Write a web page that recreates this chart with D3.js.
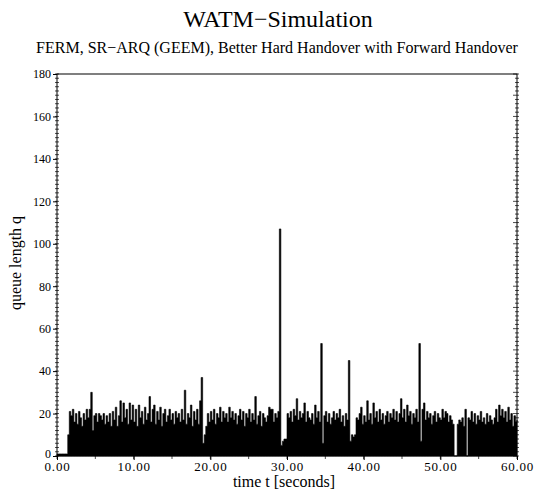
<!DOCTYPE html>
<html>
<head>
<meta charset="utf-8">
<script src="https://cdn.jsdelivr.net/npm/d3@7"></script>
<style>
  body { margin: 0; background: #fff; }
  text { font-family: "Liberation Serif", "Times New Roman", serif; fill: #000; }
</style>
</head>
<body>
<div id="chart"></div>
<script>
// queue length sampled every 0.2 s, from t = 0 to t = 60
var sampleStep = 0.2
var queueLength = [
  1, 1, 1, 1, 1, 1, 1, 10, 21, 19,
  22, 16, 20, 15, 21, 18, 14, 20, 17, 22,
  18, 22, 30, 12, 19, 20, 16, 20, 19, 17,
  20, 15, 19, 16, 20, 14, 21, 17, 23, 14,
  19, 26, 16, 25, 18, 22, 15, 25, 17, 24,
  16, 22, 14, 24, 18, 21, 15, 23, 17, 20,
  28, 16, 22, 24, 15, 21, 17, 23, 14, 20,
  22, 16, 19, 22, 17, 20, 15, 21, 18, 20,
  16, 22, 17, 31, 15, 20, 18, 24, 14, 21,
  17, 22, 15, 26, 37, 6, 10, 14, 20, 16,
  21, 17, 22, 15, 20, 18, 23, 16, 21, 18,
  20, 16, 23, 18, 21, 17, 20, 15, 19, 22,
  17, 21, 14, 20, 18, 22, 16, 20, 17, 28,
  15, 19, 21, 14, 20, 18, 16, 19, 23, 22,
  22, 16, 20, 18, 21, 107, 5, 7, 8, 8,
  20, 18, 21, 16, 22, 19, 27, 17, 21, 18,
  20, 25, 16, 21, 18, 17, 20, 15, 24, 18,
  21, 16, 53, 6, 19, 21, 16, 20, 15, 18,
  21, 17, 20, 18, 22, 16, 19, 14, 20, 17,
  45, 7, 10, 9, 10, 18, 17, 20, 23, 15,
  19, 16, 26, 17, 20, 15, 25, 18, 21, 16,
  22, 17, 20, 15, 19, 21, 16, 20, 18, 22,
  17, 21, 16, 20, 27, 18, 22, 16, 24, 19,
  21, 15, 20, 18, 22, 16, 53, 7, 22, 25,
  17, 21, 18, 20, 15, 19, 21, 16, 20, 18,
  17, 22, 18, 21, 20, 16, 19, 17, 15, 0,
  0, 15, 17, 16, 18, 14, 22, 0, 18, 17,
  21, 16, 20, 15, 19, 17, 21, 16, 18, 15,
  20, 16, 19, 17, 15, 18, 22, 16, 24, 19,
  22, 18, 21, 16, 23, 17, 20, 14, 19, 16,
  17
]
var xTicks = [0, 10, 20, 30, 40, 50, 60]
var yTicks = [0, 20, 40, 60, 80, 100, 120, 140, 160, 180]

var width = 538
height = 491
margin = { top: 74, right: 21, bottom: 35, left: 57 }
serif = '"Liberation Serif", "Times New Roman", serif'

var svg = d3.select("#chart")
    .append("svg")
    .attr("width", width)
    .attr("height", height)

var x = d3.scaleLinear()
    .domain([0, 60])
    .range([margin.left, width - margin.right])

var y = d3.scaleLinear()
    .domain([0, 180])
    .range([height - margin.bottom, margin.top])

var data = queueLength.map((v, i) => ({ t: i * sampleStep, q: v }))

// the queue as a filled step area
var area = d3.area()
    .curve(d3.curveStepAfter)
    .x(d => x(d.t))
    .y0(y(0))
    .y1(d => y(d.q))

svg.append("path")
    .datum(data)
    .attr("d", area)
    .attr("fill", "#000")
    .attr("stroke", "#000")
    .attr("stroke-width", 0.6)

// frame
svg.append("rect")
    .attr("x", x(0))
    .attr("y", y(180))
    .attr("width", x(60) - x(0))
    .attr("height", y(0) - y(180))
    .attr("fill", "none")
    .attr("stroke", "#000")
    .attr("stroke-width", 1)

// left axis: minor ticks every 2
var minorY = d3.range(0, 181, 2)
svg.append("g")
    .attr("transform", "translate(" + x(0) + ",0)")
    .attr("font-family", serif)
    .call(d3.axisLeft(y).tickValues(yTicks).tickSize(4).tickFormat(d3.format("d")))
    .call(g => g.select(".domain").remove())
    .call(g => g.selectAll("text").style("font-family", serif).style("font-size", "12px").attr("x", -6))
    .call(g => g.selectAll(".tick").filter(d => d == 0).select("text").attr("dy", "0.1em"))

svg.append("g")
    .selectAll("line")
    .data(minorY)
    .enter()
    .append("line")
    .attr("x1", x(0) - 2).attr("x2", x(0) + 2)
    .attr("y1", d => y(d)).attr("y2", d => y(d))
    .attr("stroke", "#000")
    .attr("stroke-width", 0.7)

// right axis mirror
svg.append("g")
    .selectAll("line")
    .data(minorY)
    .enter()
    .append("line")
    .attr("x1", d => x(60) - (d % 10 == 0 ? 4 : 2)).attr("x2", x(60) + 2)
    .attr("y1", d => y(d)).attr("y2", d => y(d))
    .attr("stroke", "#000")
    .attr("stroke-width", 0.7)

// bottom axis
svg.append("g")
    .attr("transform", "translate(0," + y(0) + ")")
    .attr("font-family", serif)
    .call(d3.axisBottom(x).tickValues(xTicks).tickSize(4).tickFormat(d3.format(".2f")))
    .call(g => g.select(".domain").remove())
    .call(g => g.selectAll("text").style("font-family", serif).style("font-size", "13px")
        .style("letter-spacing", "0.8px").attr("y", 6).attr("dy", "0.72em"))

svg.append("g")
    .selectAll("line")
    .data(d3.range(0, 61, 5))
    .enter()
    .append("line")
    .attr("x1", d => x(d)).attr("x2", d => x(d))
    .attr("y1", y(0)).attr("y2", y(0) + 3)
    .attr("stroke", "#000")
    .attr("stroke-width", 0.7)

// titles
svg.append("text")
    .attr("x", 278).attr("y", 27)
    .attr("text-anchor", "middle")
    .style("font-size", "24px")
    .text("WATM\u2212Simulation")

svg.append("text")
    .attr("x", 277).attr("y", 53)
    .attr("text-anchor", "middle")
    .style("font-size", "16px")
    .text("FERM, SR\u2212ARQ (GEEM), Better Hard Handover with Forward Handover")

svg.append("text")
    .attr("x", 284).attr("y", 487)
    .attr("text-anchor", "middle")
    .style("font-size", "16px")
    .text("time t [seconds]")

svg.append("text")
    .attr("transform", "translate(21," + (y(90) - 2) + ") rotate(-90)")
    .attr("text-anchor", "middle")
    .style("font-size", "16px")
    .text("queue length q")
</script>
</body>
</html>
